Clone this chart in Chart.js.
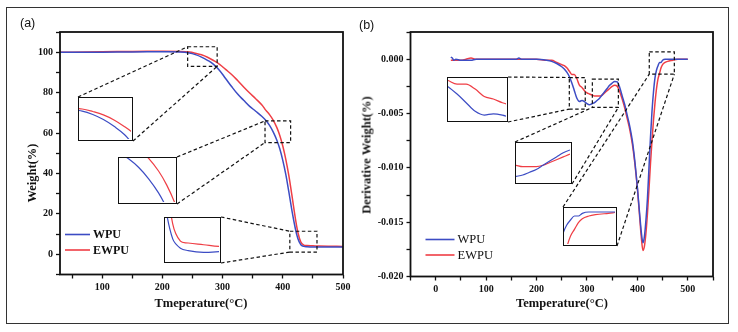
<!DOCTYPE html>
<html>
<head>
<meta charset="utf-8">
<script src="https://cdn.jsdelivr.net/npm/chart.js@4.4.0/dist/chart.umd.min.js"></script>
<style>
  body { margin: 0; background: #fff; }
  #fig { position: relative; width: 738px; height: 332px; font-family: "Liberation Serif", "Times New Roman", serif; color: #111; }
  #fig canvas { position: absolute; top: 0; }
  .frame { position: absolute; left: 6px; top: 7px; width: 721px; height: 315px; border: 1px solid #333; }
  .tag { position: absolute; font: 12.5px "Liberation Sans", Arial, sans-serif; }
  .ttl { position: absolute; font-weight: bold; font-size: 12.5px; white-space: nowrap; transform: translate(-50%, -50%); }
  .ttl.v { transform: translate(-50%, -50%) rotate(-90deg); }
  .inset { position: absolute; box-sizing: border-box; border: 1.5px solid #111; background: #fff; }
  .inset canvas { position: static; display: block; }
</style>
</head>
<body>
<div id="fig">
  <div class="frame"></div>
  <canvas id="tga" width="369" height="332" style="left:0"></canvas>
  <canvas id="dtg" width="369" height="332" style="left:369px"></canvas>
  <div class="tag" style="left:20px;top:16px">(a)</div>
  <div class="tag" style="left:359px;top:18px">(b)</div>
  <div class="ttl" style="left:201px;top:303px">Tmeperature(°C)</div>
  <div class="ttl v" style="left:32px;top:173px">Weight(%)</div>
  <div class="ttl" style="left:562px;top:303px">Temperature(°C)</div>
  <div class="ttl v" style="left:367px;top:155px">Derivative Weight(%)</div>
</div>
<script>
// TGA: weight loss (%)
const tgaTemp = [30, 50, 100, 150, 200, 230, 245, 255, 265, 275, 285, 295, 305, 315, 325, 335, 345, 355, 365, 372, 378, 384, 390, 395, 400, 405, 410, 415, 420, 425, 430, 435, 440, 450, 460, 480, 500];
const wpuWeight = [100, 100, 100, 100.1, 100.2, 100.1, 99.6, 98.8, 97.6, 96, 94, 91, 87, 83, 79.3, 76.2, 73.2, 70.8, 68.3, 66.2, 63.8, 60.6, 56.6, 52.2, 46.5, 39.5, 31, 22, 14, 7.8, 4.7, 3.9, 3.7, 3.55, 3.6, 3.6, 3.6];
const ewpuWeight = [100, 100, 100.2, 100.4, 100.5, 100.4, 100.1, 99.5, 98.7, 97.5, 95.9, 94, 91.5, 89, 86, 82.8, 79.8, 77, 74, 71.2, 69.1, 66.4, 62.8, 58.8, 53.6, 47, 39, 29.5, 19.5, 11, 6, 4.5, 4.35, 4.2, 4.05, 3.95, 3.9];

// DTG: derivative weight (%/°C)
const dtgTemp = [30, 33, 36, 40, 50, 60, 70, 80, 100, 120, 140, 160, 165, 170, 180, 200, 220, 230, 240, 250, 255, 260, 265, 270, 275, 280, 285, 290, 295, 300, 305, 310, 315, 320, 325, 330, 335, 340, 345, 350, 355, 360, 365, 370, 375, 380, 385, 390, 395, 400, 405, 408, 411, 414, 417, 420, 423, 426, 429, 432, 435, 438, 441, 444, 447, 450, 455, 460, 470, 480, 490, 500];
const wpuDeriv = [0.0002, 0.0001, -0.0001, 0, -0.0001, -0.0001, -0.0001, 0, 0, 0, 0, 0, 0.0001, 0, 0, 0, -0.0001, -0.0002, -0.0004, -0.0007, -0.0009, -0.0012, -0.0016, -0.0022, -0.0029, -0.0036, -0.0039, -0.0038, -0.0039, -0.0041, -0.0042, -0.0041, -0.004, -0.0038, -0.0036, -0.0033, -0.003, -0.0027, -0.0024, -0.0022, -0.00205, -0.0021, -0.0026, -0.0034, -0.0042, -0.0052, -0.0062, -0.0075, -0.0094, -0.0118, -0.0145, -0.016, -0.0169, -0.0163, -0.0148, -0.0128, -0.01, -0.0072, -0.0048, -0.003, -0.0017, -0.001, -0.0006, -0.0003, -0.0003, -0.0001, 0, 0, 0, 0, 0, 0];
const ewpuDeriv = [-0.0001, -0.0001, -0.0001, -0.0001, -0.0001, 0, 0.0001, 0, 0, 0, 0, 0, 0, 0, 0, 0, -0.0001, -0.0001, -0.0003, -0.0005, -0.0006, -0.0008, -0.0011, -0.0014, -0.0014, -0.0018, -0.0024, -0.0026, -0.0029, -0.0031, -0.0032, -0.0033, -0.0034, -0.0034, -0.0034, -0.0033, -0.0031, -0.0029, -0.0027, -0.0025, -0.0024, -0.0025, -0.003, -0.0037, -0.0045, -0.0055, -0.0065, -0.0078, -0.0096, -0.0119, -0.0148, -0.0165, -0.0176, -0.0172, -0.016, -0.0142, -0.012, -0.0096, -0.0075, -0.0056, -0.004, -0.0027, -0.0018, -0.0013, -0.0008, -0.0005, -0.0003, -0.0002, -0.0001, 0, 0, 0];

const seriesNames = ['WPU', 'EWPU'];

// axis tick marks and which of them carry a label
const tgaXMarks = [50, 100, 150, 200, 250, 300, 350, 400, 450, 500];
const tgaXLabels = [100, 200, 300, 400, 500];
const tgaYMarks = [-10, 0, 10, 20, 30, 40, 50, 60, 70, 80, 90, 100, 110];
const tgaYLabels = [0, 20, 40, 60, 80, 100];
const dtgXMarks = [-50, 0, 50, 100, 150, 200, 250, 300, 350, 400, 450, 500, 550];
const dtgXLabels = [0, 100, 200, 300, 400, 500];
const dtgYMarks = [0.0025, 0, -0.0025, -0.005, -0.0075, -0.01, -0.0125, -0.015, -0.0175, -0.02];
const dtgYLabels = [0, -0.005, -0.01, -0.015, -0.02];

// magnified regions: [xmin, xmax, ymin, ymax] of the dashed box, the inset's own view,
// where the inset sits in the figure, and which corners the leader lines join (inset -> box)
const tgaZooms = [
  { box: [242, 291, 93, 102.7], view: [242, 291, 93, 102.7], at: [78, 97, 55, 44], links: [['tl', 'tl'], ['br', 'br']] },
  { box: [370.5, 413, 55.3, 66], view: [366, 400, 54, 66.5], at: [118, 157, 59, 47], links: [['tr', 'tl'], ['br', 'bl']] },
  { box: [411.7, 456.8, 1.1, 11.4], view: [425, 460, 2.8, 6.5], at: [164, 217, 57, 46], links: [['tr', 'tl'], ['br', 'bl']] }
];
const dtgZooms = [
  { box: [265, 296.6, -0.00459, -0.00169], view: [265, 297, -0.0043, -0.0009], at: [447, 77, 61, 45], links: [['tr', 'tl'], ['br', 'bl']] },
  { box: [310.7, 362.3, -0.00444, -0.00183], view: [310, 350, -0.0045, -0.0017], at: [515, 142, 57, 42], links: [['tl', 'bl'], ['br', 'br']] },
  { box: [423.6, 473.3, -0.00138, 0.00067], view: [436, 475, -0.0024, 0.0003], at: [563, 207, 54, 39], links: [['tl', 'bl'], ['br', 'br']] }
];

const BLUE = '#3c4cc4';
const RED = '#ef3e45';
const INK = '#111';
const tickFont = { family: '"Liberation Serif", "Times New Roman", serif', size: 10, weight: 'bold' };

const near = (a, b) => Math.abs(a - b) < 1e-9;
const pairs = (xs, ys) => xs.map((x, i) => ({ x: x, y: ys[i] }));

// weight curves are smooth splines, the derivative curves keep their sharp peak
function lineSets(xs, a, b, width, spline) {
  const curve = spline ? { tension: 0.4 } : { cubicInterpolationMode: 'monotone' };
  return [
    Object.assign({ label: seriesNames[0], data: pairs(xs, a), borderColor: BLUE, borderWidth: width, pointRadius: 0 }, curve),
    Object.assign({ label: seriesNames[1], data: pairs(xs, b), borderColor: RED, borderWidth: width, pointRadius: 0 }, curve)
  ];
}

function axis(min, max, marks, labelled, fmt, size, horizontal) {
  return {
    type: 'linear', min: min, max: max,
    afterBuildTicks: s => { s.ticks = marks.map(v => ({ value: v })); },
    afterFit: s => { if (horizontal) s.height = size; else s.width = size; },
    grid: { drawOnChartArea: false, drawTicks: true, tickLength: 4, tickColor: INK, tickWidth: 1.3 },
    border: { display: false },
    ticks: {
      autoSkip: false, maxRotation: 0, padding: 3, color: INK, font: tickFont,
      callback: v => labelled.some(l => near(l, v)) ? fmt(v) : ''
    }
  };
}

// axes frame, dashed zoom boxes with leader lines, and the in-plot legend
const decor = {
  id: 'decor',
  afterDatasetsDraw(chart, args, opts) {
    const { ctx, chartArea: a, scales: { x, y } } = chart;
    const ox = chart.canvas.offsetLeft, oy = chart.canvas.offsetTop;
    ctx.save();

    ctx.strokeStyle = INK;
    ctx.lineWidth = 1.2;
    ctx.setLineDash([3.5, 2.5]);
    opts.zooms.forEach(z => {
      const bx = { l: x.getPixelForValue(z.box[0]), r: x.getPixelForValue(z.box[1]), t: y.getPixelForValue(z.box[3]), b: y.getPixelForValue(z.box[2]) };
      const ix = { l: z.at[0] - ox, r: z.at[0] + z.at[2] - ox, t: z.at[1] - oy, b: z.at[1] + z.at[3] - oy };
      ctx.strokeRect(bx.l, bx.t, bx.r - bx.l, bx.b - bx.t);
      z.links.forEach(([from, to]) => {
        ctx.beginPath();
        ctx.moveTo(from[1] === 'l' ? ix.l : ix.r, from[0] === 't' ? ix.t : ix.b);
        ctx.lineTo(to[1] === 'l' ? bx.l : bx.r, to[0] === 't' ? bx.t : bx.b);
        ctx.stroke();
      });
    });
    ctx.setLineDash([]);

    ctx.lineWidth = 1.8;
    ctx.strokeRect(a.left, a.top, a.right - a.left, a.bottom - a.top);

    const lg = opts.legend;
    ctx.font = lg.font;
    ctx.textBaseline = 'middle';
    ctx.fillStyle = INK;
    chart.data.datasets.forEach((ds, i) => {
      const yy = a.bottom - lg.rows[i];
      ctx.strokeStyle = ds.borderColor;
      ctx.lineWidth = 1.6;
      ctx.beginPath();
      ctx.moveTo(a.left + lg.x0, yy);
      ctx.lineTo(a.left + lg.x1, yy);
      ctx.stroke();
      ctx.fillText(ds.label, a.left + lg.x1 + 3, yy + 0.5);
    });
    ctx.restore();
  }
};

function mainChart(id, xs, a, b, spline, xAxis, yAxis, pad, zooms, legend) {
  return new Chart(id, {
    type: 'line',
    data: { datasets: lineSets(xs, a, b, 1.5, spline) },
    options: {
      responsive: false, animation: false, devicePixelRatio: 1,
      layout: { padding: pad },
      plugins: { legend: { display: false }, tooltip: { enabled: false }, decor: { zooms: zooms, legend: legend } },
      scales: { x: xAxis, y: yAxis }
    },
    plugins: [decor]
  });
}

function insetChart(z, xs, a, b, spline) {
  const box = document.createElement('div');
  box.className = 'inset';
  box.style.left = z.at[0] + 'px';
  box.style.top = z.at[1] + 'px';
  box.style.width = z.at[2] + 'px';
  box.style.height = z.at[3] + 'px';
  const cv = document.createElement('canvas');
  cv.width = z.at[2] - 3;
  cv.height = z.at[3] - 3;
  box.appendChild(cv);
  document.getElementById('fig').appendChild(box);
  new Chart(cv, {
    type: 'line',
    data: { datasets: lineSets(xs, a, b, 1.2, spline) },
    options: {
      responsive: false, animation: false, devicePixelRatio: 1,
      layout: { padding: 0 },
      plugins: { legend: { display: false }, tooltip: { enabled: false } },
      scales: {
        x: { type: 'linear', display: false, min: z.view[0], max: z.view[1] },
        y: { display: false, min: z.view[2], max: z.view[3] }
      }
    }
  });
}

mainChart('tga', tgaTemp, wpuWeight, ewpuWeight, true,
  axis(30, 500, tgaXMarks, tgaXLabels, v => String(v), 20, true),
  axis(-10, 110, tgaYMarks, tgaYLabels, v => String(v), 40, false),
  { left: 20, right: 26, top: 32, bottom: 37.5 }, tgaZooms,
  { font: 'bold 12px "Liberation Serif", serif', x0: 5, x1: 30, rows: [40, 24.5] });

mainChart('dtg', dtgTemp, wpuDeriv, ewpuDeriv, false,
  axis(-50, 550, dtgXMarks, dtgXLabels, v => String(v), 20, true),
  axis(-0.02, 0.0025, dtgYMarks, dtgYLabels, v => v.toFixed(3), 36, false),
  { left: 5.5, right: 25, top: 32, bottom: 35.5 }, dtgZooms,
  { font: '12.5px "Liberation Serif", serif', x0: 15, x1: 44, rows: [37, 21.5] });

tgaZooms.forEach(z => insetChart(z, tgaTemp, wpuWeight, ewpuWeight, true));
dtgZooms.forEach(z => insetChart(z, dtgTemp, wpuDeriv, ewpuDeriv, false));
</script>
</body>
</html>
